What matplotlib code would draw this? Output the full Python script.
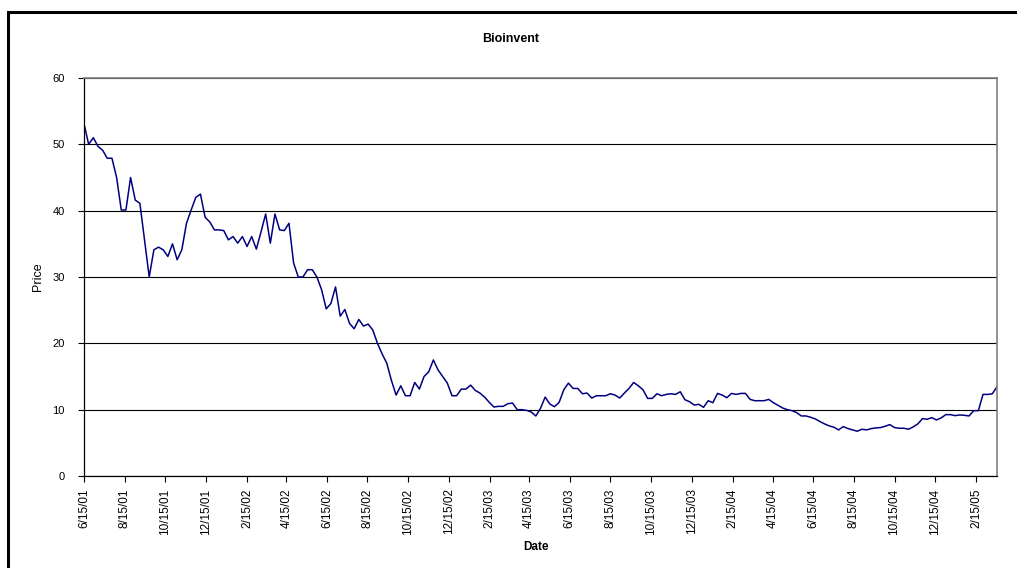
"""Bioinvent weekly share price, Excel-style line chart."""

import matplotlib

matplotlib.use("Agg")
import matplotlib.pyplot as plt
import pandas as pd
from matplotlib.patches import Rectangle

plt.rcParams["font.family"] = ["Liberation Sans", "DejaVu Sans"]

start_date = "2001-06-15"

# weekly closing prices
prices = [
    53.1, 50.0, 51.0, 49.7, 49.1, 47.9, 47.9, 45.0, 40.1, 40.1,
    45.0, 41.6, 41.1, 35.5, 30.0, 34.1, 34.5, 34.1, 33.1, 35.0,
    32.6, 34.1, 38.1, 40.1, 42.0, 42.5, 39.0, 38.3, 37.1, 37.1,
    37.0, 35.6, 36.1, 35.1, 36.1, 34.6, 36.1, 34.2, 36.8, 39.5,
    35.1, 39.5, 37.1, 37.0, 38.1, 32.1, 30.0, 30.0, 31.1, 31.1,
    30.0, 28.1, 25.2, 26.0, 28.5, 24.1, 25.1, 23.0, 22.2, 23.6,
    22.6, 22.9, 22.0, 20.0, 18.4, 17.0, 14.4, 12.2, 13.6, 12.1,
    12.1, 14.1, 13.1, 15.0, 15.7, 17.5, 16.0, 15.0, 14.0, 12.1,
    12.1, 13.1, 13.1, 13.7, 12.9, 12.5, 11.9, 11.1, 10.4, 10.5,
    10.5, 10.9, 11.0, 10.0, 10.0, 9.9, 9.65, 9.05, 10.2, 11.9,
    10.85, 10.45, 11.1, 13.0, 14.0, 13.2, 13.2, 12.4, 12.5, 11.75,
    12.1, 12.1, 12.1, 12.4, 12.2, 11.75, 12.5, 13.2, 14.1, 13.6,
    13.0, 11.7, 11.7, 12.4, 12.1, 12.3, 12.4, 12.3, 12.7, 11.5,
    11.2, 10.7, 10.8, 10.35, 11.35, 11.05, 12.45, 12.2, 11.8, 12.45,
    12.3, 12.45, 12.45, 11.55, 11.35, 11.35, 11.35, 11.55, 11.05, 10.65,
    10.25, 10.0, 9.85, 9.55, 9.05, 9.05, 8.85, 8.6, 8.2, 7.85,
    7.55, 7.35, 6.95, 7.45, 7.15, 6.95, 6.75, 7.05, 6.95, 7.15,
    7.25, 7.3, 7.5, 7.75, 7.3, 7.2, 7.2, 7.05, 7.4, 7.85,
    8.65, 8.55, 8.8, 8.45, 8.75, 9.25, 9.25, 9.1, 9.2, 9.15,
    9.05, 9.85, 9.85, 12.3, 12.3, 12.4, 13.45,
]

dates = pd.date_range(start_date, periods=len(prices), freq="7D")
tick_dates = pd.date_range("2001-06-01", "2005-02-01", freq="2MS") + pd.Timedelta(days=14)
tick_labels = [f"{d.month}/{d.day}/{d.strftime('%y')}" for d in tick_dates]
y_ticks = [0, 10, 20, 30, 40, 50, 60]

W, H = 1017, 568
fig = plt.figure(figsize=(W / 100, H / 100), dpi=100)

# outer chart frame (cut off by the image on the right and bottom)
fig.patches.append(
    Rectangle((8 / W, -0.2), 1.2, 1.2 + (H - 12) / H - 1.0 + 0.0,
              transform=fig.transFigure, fill=False, edgecolor="black",
              linewidth=2.2)
)

ax = fig.add_axes([84 / W, 1 - 476 / H, (997 - 84) / W, (476 - 78) / H])
ax.plot(dates, prices, color="#000080", linewidth=1.1)

ax.set_xlim(dates[0], dates[-1])
ax.set_ylim(0, 60)
ax.set_yticks(y_ticks)
ax.set_xticks(tick_dates)
ax.set_xticklabels(tick_labels, rotation=90, fontsize=8.5)
ax.tick_params(axis="y", labelsize=8, direction="out", length=4, width=0.8, pad=10)
ax.tick_params(axis="x", direction="out", length=4, width=0.8, pad=5)

ax.grid(axis="y", color="black", linewidth=0.8)
ax.set_axisbelow(True)
for side in ("top", "right"):
    ax.spines[side].set_color("#808080")
    ax.spines[side].set_linewidth(1.2)
for side in ("left", "bottom"):
    ax.spines[side].set_color("black")
    ax.spines[side].set_linewidth(0.9)

fig.text(511 / W, 1 - 38.5 / H, "Bioinvent", ha="center", va="center",
         fontsize=9, fontweight="bold")
fig.text(38 / W, 1 - 277 / H, "Price", ha="center", va="center",
         rotation=90, fontsize=9)
fig.text(536 / W, 1 - 547 / H, "Date", ha="center", va="center",
         fontsize=8.5, fontweight="bold")

fig.savefig("out.png", dpi=100)
